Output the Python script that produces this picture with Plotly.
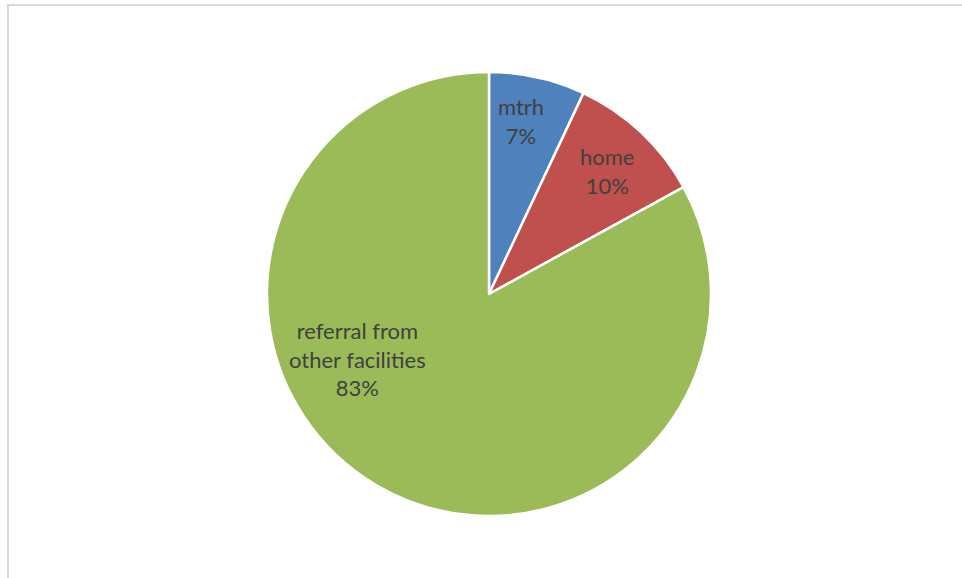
import plotly.graph_objects as go

labels = ["mtrh", "home", "referral from other facilities"]
values = [7, 10, 83]
colors = ["#4F81BD", "#C0504D", "#9BBB59"]
label_text = ["mtrh", "home", "referral from<br>other facilities"]
# label centre positions (pixels) in the picture
label_px = [(521, 121), (607, 171), (357, 359)]

W, H = 962, 578
cx, cy, r = 489, 294, 222

fig = go.Figure(go.Pie(
    labels=labels, values=values, sort=False, direction="clockwise", rotation=0,
    marker=dict(colors=colors, line=dict(color="white", width=2.5)),
    textinfo="none", hoverinfo="label+percent", showlegend=False,
    domain=dict(x=[(cx - r) / W, (cx + r) / W], y=[1 - (cy + r) / H, 1 - (cy - r) / H]),
))

total = sum(values)
for t, v, (px, py) in zip(label_text, values, label_px):
    fig.add_annotation(
        x=px / W, y=1 - py / H, xref="paper", yref="paper",
        text=f"{t}<br>{round(100 * v / total)}%", showarrow=False,
        font=dict(family="Lato, Open Sans, sans-serif", size=22, color="#404040"),
        align="center", xanchor="center", yanchor="middle",
    )

fig.add_shape(type="rect", xref="paper", yref="paper",
              x0=8 / W, y0=1 - 5 / H, x1=1.2, y1=-0.2,
              line=dict(color="#D9D9D9", width=2))

fig.update_layout(width=W, height=H, margin=dict(l=0, r=0, t=0, b=0),
                  paper_bgcolor="white", plot_bgcolor="white")
fig.write_html("out.html", config={"displayModeBar": False},
               post_script="document.body.style.margin='0';document.body.style.overflow='hidden';")
